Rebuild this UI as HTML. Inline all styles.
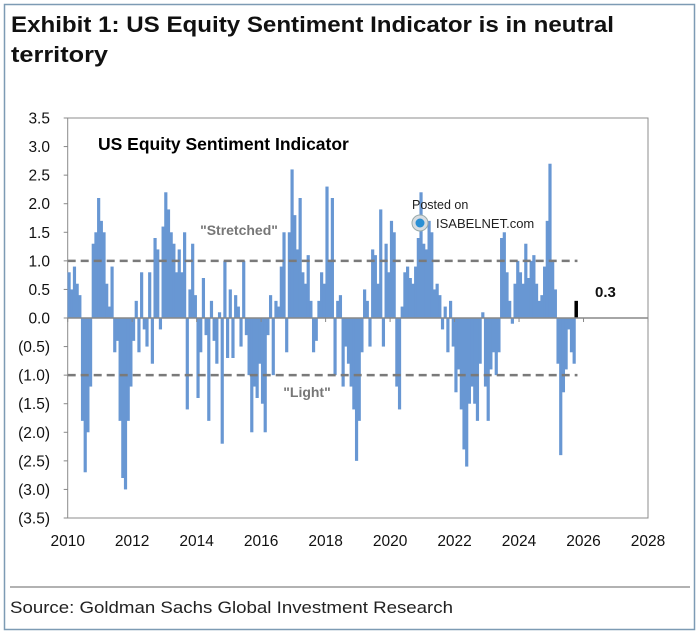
<!DOCTYPE html>
<html><head><meta charset="utf-8"><style>
html,body{margin:0;padding:0;background:#fff;}
svg{display:block;font-family:"Liberation Sans",sans-serif;}
</style></head><body>
<svg id="chart" width="699" height="636" viewBox="0 0 699 636" xmlns="http://www.w3.org/2000/svg">
<rect x="4.5" y="4.5" width="690" height="625" fill="#fff" stroke="#7d9bb4" stroke-width="1.5"/>
<text x="11" y="32" font-size="22" font-weight="bold" fill="#111" textLength="603" lengthAdjust="spacingAndGlyphs">Exhibit 1: US Equity Sentiment Indicator is in neutral</text>
<text x="11" y="62" font-size="22" font-weight="bold" fill="#111" textLength="97" lengthAdjust="spacingAndGlyphs">territory</text>
<rect x="67.7" y="118" width="580.3" height="400" fill="none" stroke="#8c8c8c" stroke-width="1"/>
<g id="bars"></g>
<g id="axes"></g>
<text x="98" y="150" font-size="17.5" font-weight="bold" fill="#000">US Equity Sentiment Indicator</text>
<text x="239" y="235" font-size="14" font-weight="bold" fill="#777" text-anchor="middle">"Stretched"</text>
<text x="307" y="397" font-size="14" font-weight="bold" fill="#777" text-anchor="middle">"Light"</text>
<text x="595" y="297" font-size="15" font-weight="bold" fill="#111">0.3</text>
<g>
<text x="412" y="209" font-size="12.5" fill="#222">Posted on</text>
<circle cx="420" cy="223" r="8" fill="#d8dde2" stroke="#9aa" stroke-width="1"/>
<circle cx="420" cy="223" r="4.5" fill="#2a8fd4"/>
<text x="436" y="228" font-size="13" fill="#222">ISABELNET.com</text>
</g>
<line x1="10" y1="587" x2="690" y2="587" stroke="#999" stroke-width="1.5"/>
<text x="10" y="613" font-size="17" fill="#222" textLength="443" lengthAdjust="spacingAndGlyphs">Source: Goldman Sachs Global Investment Research</text>
</svg>
<script>
const startYear = 2010;
const y2010 = [0.8,0.5,0.9,0.6,0.4,-1.8,-2.7,-2.0,-1.2,1.3,1.5,2.1];
const y2011 = [1.7,1.5,0.6,0.2,0.9,-0.6,-0.4,-1.8,-2.8,-3.0,-1.8,-1.2];
const y2012 = [-0.4,0.3,-0.6,0.8,-0.2,-0.5,0.8,-0.8,1.4,1.2,-0.2,1.6];
const y2013 = [2.2,1.9,1.5,1.3,0.8,1.2,0.8,1.5,-1.6,0.5,1.3,0.4];
const y2014 = [-1.4,-0.6,0.7,-0.3,-1.8,0.3,-0.4,-0.8,0.1,-2.2,1.0,-0.7];
const y2015 = [0.5,-0.7,0.4,0.2,-0.5,1.0,-0.3,-1.0,-2.0,-1.2,-1.4,-0.8];
const y2016 = [-1.5,-2.0,-0.3,0.4,-1.0,0.3,0.2,0.9,1.5,-0.6,1.5,2.6];
const y2017 = [1.8,1.2,2.1,0.8,0.6,1.1,0.3,-0.6,-0.4,0.3,0.8,0.6];
const y2018 = [2.3,1.0,2.1,-1.0,0.3,0.4,-1.2,-0.5,-0.8,-1.2,-1.6,-2.5];
const y2019 = [-1.8,-0.6,0.5,0.3,-0.5,1.2,1.1,0.6,1.9,-0.5,1.3,0.8];
const y2020 = [1.7,1.5,-1.2,-1.6,0.2,0.8,0.9,0.7,0.6,0.9,1.4,2.2];
const y2021 = [1.3,1.2,1.7,1.5,0.5,0.6,0.4,-0.2,0.2,-0.6,0.3,-0.5];
const y2022 = [-1.3,-0.9,-1.6,-2.3,-2.6,-1.5,-1.2,-1.5,-1.8,-0.8,0.1,-1.2];
const y2023 = [-1.8,-0.9,-0.6,-1.0,-0.6,1.4,1.5,0.8,0.3,-0.1,0.6,1.0];
const y2024 = [0.8,0.6,1.3,0.7,1.0,1.1,0.6,0.3,0.4,0.9,1.7,2.7];
const y2025 = [1.0,0.5,-0.8,-2.4,-1.3,-0.9,-0.2,-0.6,-0.8];
const latestValue = 0.3;
const yTicks = [3.5,3.0,2.5,2.0,1.5,1.0,0.5,0.0,-0.5,-1.0,-1.5,-2.0,-2.5,-3.0,-3.5];
const xTicks = [2010,2012,2014,2016,2018,2020,2022,2024,2026,2028];
const thresholds = [1.0,-1.0];

const NS = "http://www.w3.org/2000/svg";
const X0 = 67.7, X1 = 648, Y0 = 118, Y1 = 518;
function xs(t){ return X0 + (t - 2010) / 18 * (X1 - X0); }
function ys(v){ return Y0 + (3.5 - v) / 7 * (Y1 - Y0); }
function mk(tag, attrs){ const e = document.createElementNS(NS, tag); for (const k in attrs) e.setAttribute(k, attrs[k]); return e; }

const series = [].concat(y2010,y2011,y2012,y2013,y2014,y2015,y2016,y2017,y2018,y2019,y2020,y2021,y2022,y2023,y2024,y2025);
const bars = document.getElementById('bars');
const bw = xs(2010 + 1/12) - xs(2010);
series.forEach((v, i) => {
  const t = startYear + i / 12;
  const y = Math.min(ys(v), ys(0));
  const h = Math.abs(ys(v) - ys(0));
  const r = mk('rect', {x: xs(t) - 0.2, y: y, width: bw + 0.5, height: h, fill: '#6897d3'});
  
  
  bars.appendChild(r);
});
const tLast = startYear + series.length / 12;
const lb = mk('rect', {x: xs(tLast) - 1, y: Math.min(ys(latestValue), ys(0)), width: 3.5, height: Math.abs(ys(latestValue) - ys(0)), fill: '#000'});


bars.appendChild(lb);

const axes = document.getElementById('axes');
const zl = mk('line', {x1: X0, x2: X1, y1: ys(0), y2: ys(0), stroke: '#888', 'stroke-width': 1.5});


axes.appendChild(zl);
thresholds.forEach(v => {
  const d = mk('line', {x1: X0, x2: xs(tLast) + 2, y1: ys(v), y2: ys(v), stroke: '#7a7a7a', 'stroke-width': 2.5, 'stroke-dasharray': '8,5'});
  
  
  axes.appendChild(d);
});
yTicks.forEach(v => {
  const tk = mk('line', {x1: X0 - 4, x2: X0, y1: ys(v), y2: ys(v), stroke: '#888'});
  
  
  axes.appendChild(tk);
  const tx = mk('text', {x: 50, y: ys(v) + 5.5, 'font-size': 15.5, 'text-anchor': 'end', fill: '#111'});
  tx.textContent = v < 0 ? '(' + Math.abs(v).toFixed(1) + ')' : v.toFixed(1);
  
  
  axes.appendChild(tx);
});
xTicks.forEach(yr => {
  const tk = mk('line', {x1: xs(yr), x2: xs(yr), y1: ys(0), y2: ys(0) + 4, stroke: '#888'});
  
  
  axes.appendChild(tk);
  const tx = mk('text', {x: xs(yr), y: 546, 'font-size': 15.5, 'text-anchor': 'middle', fill: '#111'});
  tx.textContent = yr;
  
  
  axes.appendChild(tx);
});
</script>
</body></html>
